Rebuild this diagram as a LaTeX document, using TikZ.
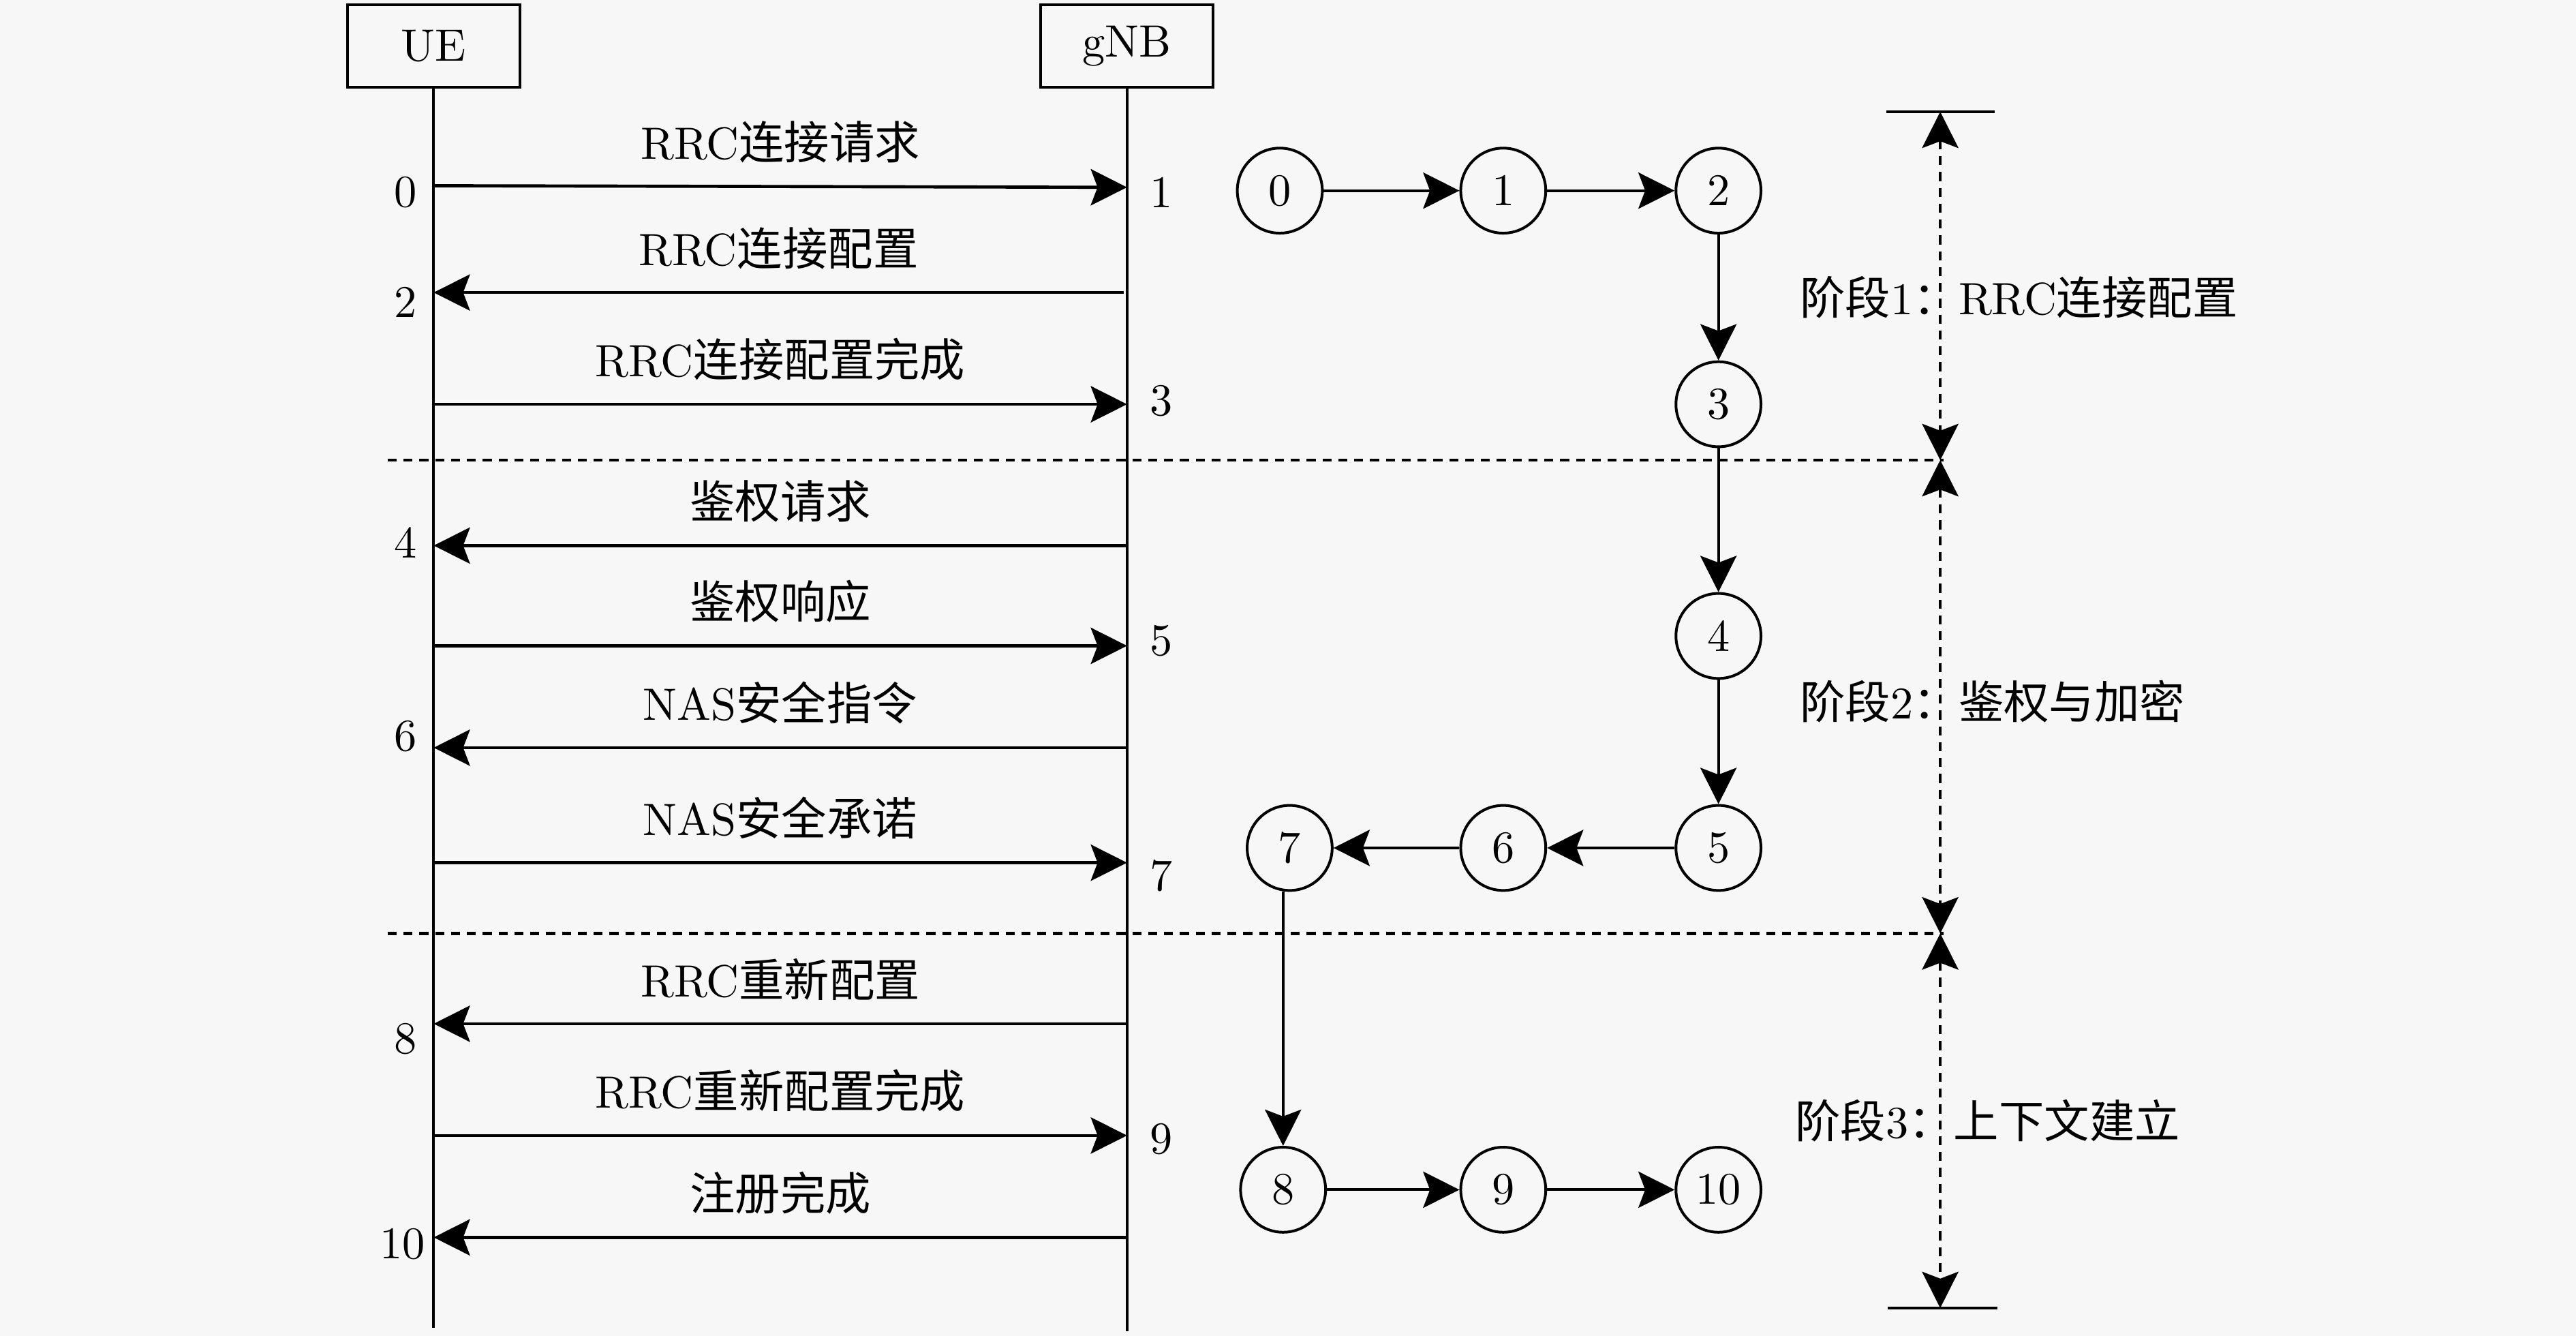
\documentclass[tikz,border=0pt]{standalone}
\usepackage{fontspec}
\usepackage{tikz}
\usetikzlibrary{arrows.meta}
\newfontfamily\cjk{Noto Sans CJK SC}
\tikzset{
  entity/.style={draw, line width=0.6pt, minimum width=1.34cm, minimum height=0.64cm, inner sep=0pt},
  state/.style={draw, circle, line width=0.6pt, minimum size=0.66cm, inner sep=0pt},
  life/.style={line width=0.6pt},
  msg/.style={line width=0.7pt, -{Stealth[length=8pt,width=8pt,inset=1.5pt]}},
  flow/.style={line width=0.6pt, -{Stealth[length=8pt,width=8pt,inset=1.5pt]}},
  phase/.style={line width=0.7pt, dash pattern=on 2pt off 1.5pt},
  span/.style={line width=0.7pt, dash pattern=on 2pt off 1.5pt,
    {Stealth[length=8pt,width=8pt,inset=1.5pt]}-{Stealth[length=8pt,width=8pt,inset=1.5pt]}},
  bar/.style={line width=0.7pt}
}

\begin{document}
\begin{tikzpicture}[x=1.2755cm, y=1.2755cm]
      \fill[black!3] (0,0) rectangle (15.68,-8.13);

      % entities and lifelines
      \node[entity] (ue) at (2.64,-0.28) {UE};
      \node[entity] (gnb) at (6.86,-0.28) {gNB};
      \coordinate (ueend) at (2.64,-8.08);
      \coordinate (gnbend) at (6.86,-8.10);
      \draw[life] (ue.south) -- (ueend);
      \draw[life] (gnb.south) -- (gnbend);

      % message end points
      \coordinate (u1) at (2.64,-1.13);  \coordinate (g1) at (6.86,-1.14);
      \coordinate (u2) at (2.64,-1.78);  \coordinate (g2) at (6.84,-1.78);
      \coordinate (u3) at (2.64,-2.46);  \coordinate (g3) at (6.86,-2.46);
      \coordinate (u4) at (2.64,-3.32);  \coordinate (g4) at (6.86,-3.32);
      \coordinate (u5) at (2.64,-3.93);  \coordinate (g5) at (6.86,-3.93);
      \coordinate (u6) at (2.64,-4.55);  \coordinate (g6) at (6.86,-4.55);
      \coordinate (u7) at (2.64,-5.25);  \coordinate (g7) at (6.86,-5.25);
      \coordinate (u8) at (2.64,-6.23);  \coordinate (g8) at (6.86,-6.23);
      \coordinate (u9) at (2.64,-6.91);  \coordinate (g9) at (6.86,-6.91);
      \coordinate (u10) at (2.64,-7.53); \coordinate (g10) at (6.86,-7.53);

      \draw[msg] (u1) -- (g1) node[midway, above=1.5pt] {RRC{\cjk 连接请求}};
      \draw[msg] (g2) -- (u2) node[midway, above=1.5pt] {RRC{\cjk 连接配置}};
      \draw[msg] (u3) -- (g3) node[midway, above=1.5pt] {RRC{\cjk 连接配置完成}};
      \draw[msg] (g4) -- (u4) node[midway, above=1.5pt] {{\cjk 鉴权请求}};
      \draw[msg] (u5) -- (g5) node[midway, above=1.5pt] {{\cjk 鉴权响应}};
      \draw[msg] (g6) -- (u6) node[midway, above=1.5pt] {NAS{\cjk 安全指令}};
      \draw[msg] (u7) -- (g7) node[midway, above=1.5pt] {NAS{\cjk 安全承诺}};
      \draw[msg] (g8) -- (u8) node[midway, above=1.5pt] {RRC{\cjk 重新配置}};
      \draw[msg] (u9) -- (g9) node[midway, above=1.5pt] {RRC{\cjk 重新配置完成}};
      \draw[msg] (g10) -- (u10) node[midway, above=1.5pt] {{\cjk 注册完成}};

      % step numbers
      \node (l0) at (2.47,-1.17) {0};
      \node (l1) at (7.07,-1.17) {1};
      \node (l2) at (2.47,-1.84) {2};
      \node (l3) at (7.07,-2.44) {3};
      \node (l4) at (2.47,-3.30) {4};
      \node (l5) at (7.07,-3.90) {5};
      \node (l6) at (2.47,-4.48) {6};
      \node (l7) at (7.07,-5.33) {7};
      \node (l8) at (2.47,-6.32) {8};
      \node (l9) at (7.07,-6.93) {9};
      \node (l10) at (2.45,-7.57) {10};

      % phase separators
      \draw[phase] (2.36,-2.80) -- (11.83,-2.80);
      \draw[phase] (2.36,-5.68) -- (11.83,-5.68);

      % state chain
      \node[state] (s0) at (7.79,-1.16) {0};
      \node[state] (s1) at (9.15,-1.16) {1};
      \node[state] (s2) at (10.46,-1.16) {2};
      \node[state] (s3) at (10.46,-2.46) {3};
      \node[state] (s4) at (10.46,-3.87) {4};
      \node[state] (s5) at (10.46,-5.16) {5};
      \node[state] (s6) at (9.15,-5.16) {6};
      \node[state] (s7) at (7.85,-5.16) {7};
      \node[state] (s8) at (7.81,-7.24) {8};
      \node[state] (s9) at (9.15,-7.24) {9};
      \node[state] (s10) at (10.46,-7.24) {10};

      \draw[flow] (s0) -- (s1);
      \draw[flow] (s1) -- (s2);
      \draw[flow] (s2) -- (s3);
      \draw[flow] (s3) -- (s4);
      \draw[flow] (s4) -- (s5);
      \draw[flow] (s5) -- (s6);
      \draw[flow] (s6) -- (s7);
      \draw[flow] (s7.south -| s8) -- (s8);
      \draw[flow] (s8) -- (s9);
      \draw[flow] (s9) -- (s10);

      % phase spans
      \coordinate (b0) at (11.81,-0.68);
      \coordinate (b1) at (11.81,-2.80);
      \coordinate (b2) at (11.81,-5.68);
      \coordinate (b3) at (11.81,-7.96);
      \draw[bar] (11.48,-0.68) -- (12.14,-0.68);
      \draw[bar] (11.49,-7.96) -- (12.16,-7.96);
      \draw[span] (b0) -- (b1);
      \draw[span] (b1) -- (b2);
      \draw[span] (b2) -- (b3);

      \node[anchor=west] (p1) at (10.86,-1.81) {{\cjk 阶段}1{\cjk ：}RRC{\cjk 连接配置}};
      \node[anchor=west] (p2) at (10.86,-4.27) {{\cjk 阶段}2{\cjk ：鉴权与加密}};
      \node[anchor=west] (p3) at (10.83,-6.82) {{\cjk 阶段}3{\cjk ：上下文建立}};
    \end{tikzpicture}
\end{document}
